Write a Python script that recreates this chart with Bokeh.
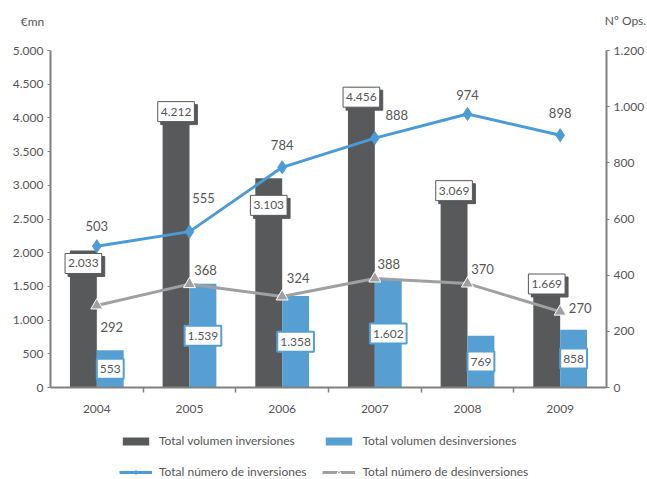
from bokeh.plotting import figure
from bokeh.models import (Range1d, LinearAxis, FixedTicker, Legend, LegendItem,
                          ColumnDataSource)
from bokeh.core.properties import value
from bokeh.embed import file_html
from bokeh.resources import INLINE

# ---- data ----
years = ["2004", "2005", "2006", "2007", "2008", "2009"]
vol_inversiones = [2033, 4212, 3103, 4456, 3069, 1669]
vol_desinversiones = [553, 1539, 1358, 1602, 769, 858]
num_inversiones = [503, 555, 784, 888, 974, 898]
num_desinversiones = [292, 368, 324, 388, 370, 270]
left_ticks = [0, 500, 1000, 1500, 2000, 2500, 3000, 3500, 4000, 4500, 5000]
right_ticks = [0, 200, 400, 600, 800, 1000, 1200]
left_title = "€mn"
right_title = "Nº Ops."
series_names = ["Total volumen inversiones", "Total volumen desinversiones",
                "Total número de inversiones", "Total número de desinversiones"]

# ---- styles ----
DARK = "#58595b"
BLUE = "#559fd3"
LBLUE = "#4a9bd6"
GRAY = "#a0a0a0"
TXT = "#555555"
AX = "#808080"
FONT = value("Lato")
W = 647

# label pixel offsets (screen px, +y = down)
dark_box_dy = [13, 8, 27, 10, 10, 9]
inv_lab_dx = [0, 14, 0, 22, 0, 0]
inv_lab_dy = [-20, -34, -22, -23, -19, -22]
des_lab_dx = [15, 16, 16, 14, 15, 20]
des_lab_dy = [22, -14, -19, -15, -15, -4]


def fmt(v):
    return f"{v:,}".replace(",", ".")


def strip(h, y_range):
    f = figure(width=W, height=h, output_backend="svg", toolbar_location=None,
               x_range=Range1d(0, W), y_range=y_range, min_border=0,
               x_axis_location=None, y_axis_location=None)
    f.grid.visible = False
    f.outline_line_color = None
    return f


n = len(years)
xc = [i + 0.5 for i in range(n)]
bw = 0.29

src = ColumnDataSource(dict(
    xc=xc,
    xd=[x - bw / 2 for x in xc],
    xb=[x + bw / 2 for x in xc],
    vi=vol_inversiones,
    vd=vol_desinversiones,
    vd_mid=[v / 2 for v in vol_desinversiones],
    ni=num_inversiones,
    nd=num_desinversiones,
    vi_t=[fmt(v) for v in vol_inversiones],
    vd_t=[fmt(v) for v in vol_desinversiones],
    ni_t=[fmt(v) for v in num_inversiones],
    nd_t=[fmt(v) for v in num_desinversiones],
    dark_dy=dark_box_dy,
    dark_dy_s=[d + 3 for d in dark_box_dy],
    ii_dx=inv_lab_dx, ii_dy=inv_lab_dy,
    dd_dx=des_lab_dx, dd_dy=des_lab_dy,
))

# ---- header with axis titles ----
HEAD_H = 40
head = strip(HEAD_H, Range1d(HEAD_H, 0))
head.text(x=[32, 625], y=[21, 20], text=[left_title, right_title],
          text_align="center", text_baseline="middle", text_font=FONT,
          text_font_size="12px", text_color=TXT)

# ---- main chart ----
p = figure(width=W, height=380, output_backend="svg", toolbar_location=None,
           x_range=Range1d(0, n), y_range=Range1d(left_ticks[0], left_ticks[-1]),
           min_border_left=50, min_border_right=39, min_border_top=10, min_border_bottom=33)
p.extra_y_ranges = {"ops": Range1d(right_ticks[0], right_ticks[-1])}
p.outline_line_color = None
p.grid.grid_line_color = None

p.vbar(x="xd", top="vi", width=bw, source=src, fill_color=DARK, line_color=None)
p.vbar(x="xb", top="vd", width=bw, source=src, fill_color=BLUE, line_color=None)

p.line(x="xc", y="ni", source=src, line_color=LBLUE, line_width=3, y_range_name="ops")
p.scatter(x="xc", y="ni", source=src, marker="diamond", size=13, fill_color=LBLUE,
          line_color=LBLUE, y_range_name="ops")
p.line(x="xc", y="nd", source=src, line_color=GRAY, line_width=3, y_range_name="ops")
p.scatter(x="xc", y="nd", source=src, marker="triangle", size=12, fill_color=GRAY,
          line_color="white", line_width=1, y_range_name="ops")

p.text(x="xc", y="ni", text="ni_t", source=src, x_offset="ii_dx", y_offset="ii_dy",
       text_align="center", text_baseline="middle", text_font=FONT,
       text_font_size="13px", text_color=TXT, y_range_name="ops")
p.text(x="xc", y="nd", text="nd_t", source=src, x_offset="dd_dx", y_offset="dd_dy",
       text_align="center", text_baseline="middle", text_font=FONT,
       text_font_size="13px", text_color=TXT, y_range_name="ops")

PAD = dict(left=3, right=3, top=6, bottom=6)
p.text(x="xd", y="vi", text="vi_t", source=src, x_offset=3, y_offset="dark_dy_s",
       text_align="center", text_baseline="middle", text_font=FONT,
       text_font_size="12px", text_color=DARK, background_fill_color=DARK,
       border_line_color=DARK, padding=PAD)
p.text(x="xd", y="vi", text="vi_t", source=src, y_offset="dark_dy",
       text_align="center", text_baseline="middle", text_font=FONT,
       text_font_size="12px", text_color=TXT, background_fill_color="white",
       border_line_color=DARK, border_line_width=1, padding=PAD)
p.text(x="xb", y="vd_mid", text="vd_t", source=src,
       text_align="center", text_baseline="middle", text_font=FONT,
       text_font_size="12px", text_color=TXT, background_fill_color="white",
       border_line_color=BLUE, border_line_width=2, padding=PAD)

p.xaxis.ticker = FixedTicker(ticks=xc, minor_ticks=list(range(1, n)))
p.xaxis.major_label_overrides = {x: y for x, y in zip(xc, years)}
p.xaxis.major_tick_line_color = None
p.xaxis.minor_tick_line_color = AX
p.xaxis.minor_tick_out = 5
p.xaxis.minor_tick_in = 0
p.xaxis.minor_tick_line_width = 1.5
p.xaxis.axis_line_color = AX
p.xaxis.axis_line_width = 2
p.xaxis.major_label_standoff = 11
p.xaxis.major_label_text_font = "Lato"
p.xaxis.major_label_text_font_size = "12px"
p.xaxis.major_label_text_color = TXT

p.yaxis.ticker = FixedTicker(ticks=left_ticks)
p.yaxis.major_label_overrides = {t: fmt(t) for t in left_ticks}

ax_r = LinearAxis(y_range_name="ops", ticker=FixedTicker(ticks=right_ticks))
ax_r.major_label_overrides = {t: fmt(t) for t in right_ticks}
p.add_layout(ax_r, "right")

for ax in (p.yaxis[0], ax_r):
    ax.axis_line_color = AX
    ax.axis_line_width = 2
    ax.major_tick_line_color = AX
    ax.major_tick_out = 3
    ax.major_tick_in = 0
    ax.minor_tick_line_color = None
    ax.major_label_standoff = 4
    ax.major_label_text_font = "Lato"
    ax.major_label_text_font_size = "12px"
    ax.major_label_text_color = TXT

# ---- legend strip ----
LEG_H = 59
lf = strip(LEG_H, Range1d(0, LEG_H))
e = ColumnDataSource(dict(x=[-100], y=[-100]))
g1 = lf.vbar(x="x", top="y", width=1, source=e, fill_color=DARK, line_color=None)
g2 = lf.vbar(x="x", top="y", width=1, source=e, fill_color=BLUE, line_color=None)
g3 = lf.line(x="x", y="y", source=e, line_color=LBLUE, line_width=3)
g3m = lf.scatter(x="x", y="y", source=e, marker="diamond", size=12, fill_color=LBLUE,
                 line_color=LBLUE)
g4 = lf.line(x="x", y="y", source=e, line_color=GRAY, line_width=3)
g4m = lf.scatter(x="x", y="y", source=e, marker="triangle", size=10, fill_color=GRAY,
                 line_color="white", line_width=1)

legend = Legend(items=[
    LegendItem(label=series_names[0], renderers=[g1]),
    LegendItem(label=series_names[1], renderers=[g2]),
    LegendItem(label=series_names[2], renderers=[g3, g3m]),
    LegendItem(label=series_names[3], renderers=[g4, g4m]),
], orientation="horizontal", ncols=2)
legend.glyph_width = 33
legend.glyph_height = 10
legend.label_standoff = 7
legend.spacing = 16
legend.padding = 0
legend.margin = 0
legend.border_line_color = None
legend.background_fill_alpha = 0
legend.label_text_font = "Lato"
legend.label_text_font_size = "12px"
legend.label_text_color = TXT
legend.location = (119, 0)
lf.add_layout(legend)

open("out.html", "w").write(file_html([head, p, lf], INLINE))
